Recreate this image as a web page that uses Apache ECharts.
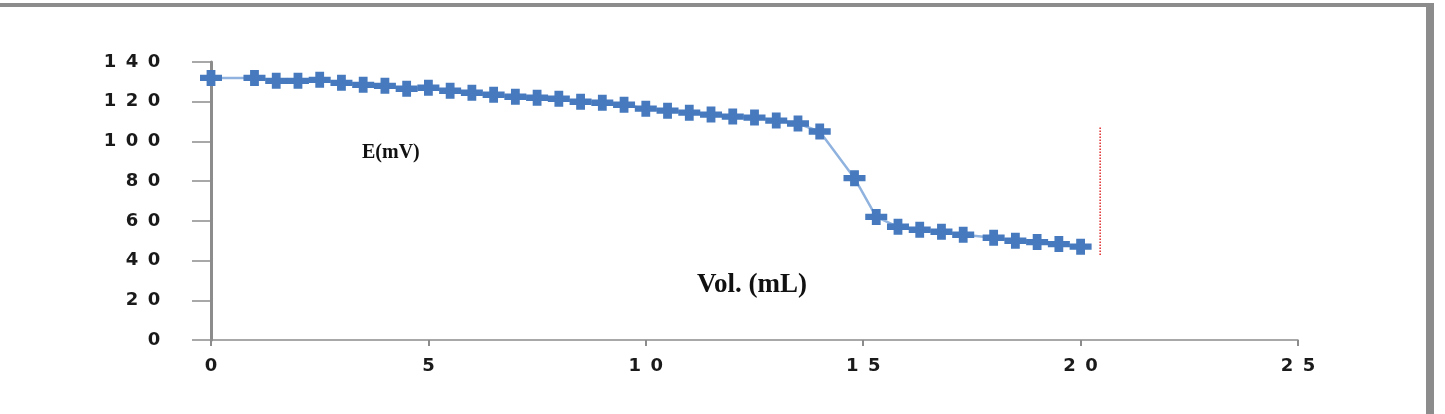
<!DOCTYPE html>
<html>
<head>
<meta charset="utf-8">
<title>E(mV) vs Vol. (mL)</title>
<script src="https://cdn.jsdelivr.net/npm/echarts@6/dist/echarts.min.js"></script>
<style>
  html, body { margin: 0; padding: 0; background: #fff; }
  #chart { width: 1445px; height: 414px; }
</style>
</head>
<body>
<div id="chart"></div>
<script>
// titration curve
const volumes = [
  0, 1, 1.5, 2, 2.5, 3, 3.5, 4, 4.5, 5,
  5.5, 6, 6.5, 7, 7.5, 8, 8.5, 9, 9.5, 10,
  10.5, 11, 11.5, 12, 12.5, 13, 13.5, 14,
  14.8, 15.3, 15.8, 16.3, 16.8, 17.3, 18, 18.5, 19, 19.5, 20
];
const potentials = [
  132, 132, 130.5, 130.5, 131, 129.5, 128.5, 128, 126.5, 127,
  125.5, 124.5, 123.5, 122.5, 122, 121.5, 120, 119.5, 118.5, 116.5,
  115.5, 114.5, 113.5, 112.5, 112, 110.5, 109, 105,
  81.5, 62, 57, 55.5, 54.5, 53, 51.5, 50, 49.3, 48.3, 47
];
// red dotted marker line near the end point
const endLineX = [20.45, 20.45];
const endLineY = [107, 42];

const xTicks = [0, 5, 10, 15, 20, 25];
const yTicks = [0, 20, 40, 60, 80, 100, 120, 140];

const axisGray = "#8c8c8c";

// spread digits out like the wide font in the original
function wideDigits(value) {
  return String(value)
    .split("")
    .map((c) => "{d|" + c + "}")
    .join("");
}
const digitRich = {
  d: {
    width: 22,
    align: "center",
    fontSize: 18,
    fontWeight: "bold",
    fontFamily: "DejaVu Sans",
    color: "#1a1a1a",
  },
};

const chart = echarts.init(document.getElementById("chart"));
chart.setOption({
  animation: false,
  backgroundColor: "#fff",
  grid: {
    left: 211,
    right: 147,
    top: 62,
    bottom: 74,
  },
  xAxis: {
    type: "value",
    min: xTicks[0],
    max: xTicks[xTicks.length - 1],
    interval: 5,
    splitLine: { show: false },
    axisLine: {
      show: true,
      onZero: false,
      lineStyle: { color: axisGray, width: 1.5 },
    },
    axisTick: {
      show: true,
      length: 6,
      lineStyle: { color: axisGray, width: 2 },
    },
    axisLabel: {
      margin: 17,
      formatter: wideDigits,
      rich: digitRich,
    },
  },
  yAxis: {
    type: "value",
    min: yTicks[0],
    max: yTicks[yTicks.length - 1],
    interval: 20,
    splitLine: { show: false },
    axisLine: {
      show: true,
      onZero: false,
      lineStyle: { color: axisGray, width: 3 },
    },
    axisTick: {
      show: true,
      length: 19,
      lineStyle: { color: axisGray, width: 1.5 },
    },
    axisLabel: {
      margin: 46,
      formatter: wideDigits,
      rich: digitRich,
    },
  },
  graphic: [
    // frame bits from the source figure
    {
      type: "rect",
      shape: { x: 0, y: 3, width: 1434, height: 4 },
      style: { fill: axisGray },
      silent: true,
    },
    {
      type: "rect",
      shape: { x: 1426, y: 3, width: 8, height: 411 },
      style: { fill: axisGray },
      silent: true,
    },
    {
      type: "text",
      left: 362,
      top: 143,
      style: {
        text: "E(mV)",
        font: "bold 20px 'Liberation Serif'",
        fill: "#111",
      },
    },
    {
      type: "text",
      left: 697,
      top: 272,
      style: {
        text: "Vol. (mL)",
        font: "bold 27px 'Liberation Serif'",
        fill: "#111",
      },
    },
  ],
  series: [
    {
      name: "E(mV)",
      type: "line",
      data: volumes.map((v, i) => [v, potentials[i]]),
      symbol: "path://M3,0H7V3H10V7H7V10H3V7H0V3H3Z",
      symbolSize: [22, 16],
      showAllSymbol: true,
      lineStyle: { color: "#8fb2de", width: 2.5 },
      itemStyle: { color: "#4679bd" },
      z: 3,
    },
    {
      name: "end",
      type: "line",
      data: endLineX.map((v, i) => [v, endLineY[i]]),
      symbol: "none",
      lineStyle: { color: "#e02a2a", width: 1.5, type: "dotted" },
      z: 2,
    },
  ],
});
</script>
</body>
</html>
